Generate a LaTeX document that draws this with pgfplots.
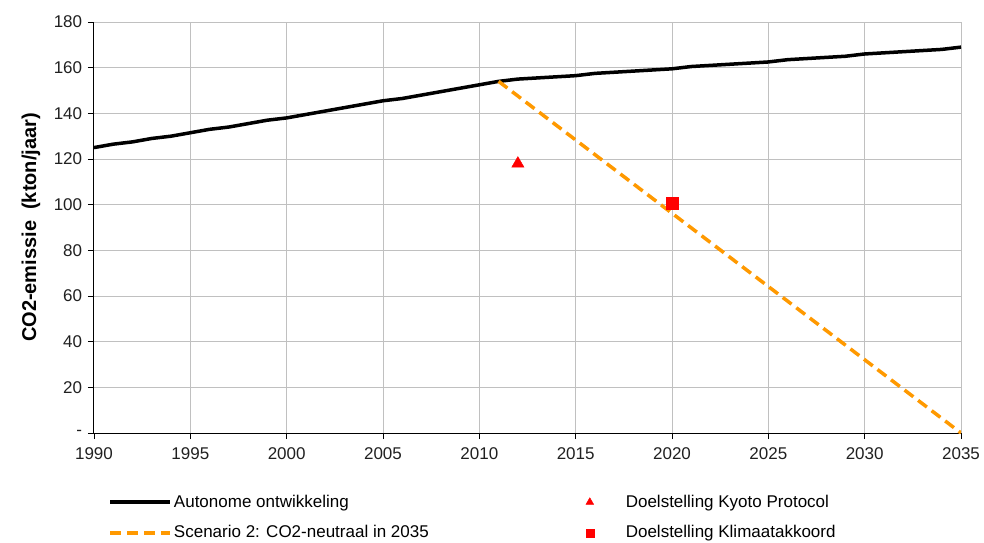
\documentclass[border=0pt]{standalone}
\usepackage{pgfplots}
\pgfplotsset{compat=1.18}
\usepackage{fontspec}
\setmainfont{Liberation Sans}
\definecolor{xlorange}{HTML}{FF9900}
\definecolor{gridgray}{HTML}{C0C0C0}
\definecolor{ticktext}{HTML}{202020}
\pgfplotsset{
  linelegend/.style={legend image code/.code={\draw[##1] (0pt,0pt) -- (60pt,0pt);}},
  marklegend/.style={legend image code/.code={\draw[##1, mark size=#1] plot coordinates {(5pt,0pt)};}},
}
\begin{document}
\fontsize{17pt}{20pt}\selectfont
\begin{tikzpicture}
  \begin{axis}[
      at={(0pt,0pt)}, anchor=south west,
      scale only axis, width=867pt, height=411pt,
      xmin=1990, xmax=2035, ymin=0, ymax=180,
      axis lines*=left,
      axis line style={-, black, line width=1pt},
      xtick={1990,1995,2000,2005,2010,2015,2020,2025,2030,2035},
      xticklabels={1990,1995,2000,2005,2010,2015,2020,2025,2030,2035},
      ytick={0,20,40,60,80,100,120,140,160,180},
      yticklabels={-,20,40,60,80,100,120,140,160,180},
      tick align=outside, major tick length=6pt,
      tick style={black, line width=0.8pt},
      ticklabel style={font=\fontsize{17pt}{20pt}\selectfont, text=ticktext},
      xticklabel style={yshift=-3pt},
      grid=major, grid style={gridgray, line width=1pt},
      ylabel={\textbf{CO2-emissie\ \ (kton/jaar)}},
      ylabel style={font=\fontsize{20pt}{24pt}\selectfont, yshift=2pt},
      legend columns=2,
      legend cell align=left,
      legend style={at={(0.013,-0.14)}, anchor=north west, draw=none, fill=none,
                    font=\fontsize{17pt}{20pt}\selectfont, row sep=12pt,
                    /tikz/column 2/.style={column sep=155pt},
                    /tikz/column 3/.style={column sep=30pt}},
    ]
    \addplot[black, line width=3.5pt, line join=round, linelegend]
      coordinates {
        (1990,125) (1991,126.5) (1992,127.5) (1993,129) (1994,130)
        (1995,131.5) (1996,133) (1997,134) (1998,135.5) (1999,137)
        (2000,138) (2001,139.5) (2002,141) (2003,142.5) (2004,144)
        (2005,145.5) (2006,146.5) (2007,148) (2008,149.5) (2009,151)
        (2010,152.5) (2011,154) (2012,155) (2013,155.5) (2014,156)
        (2015,156.5) (2016,157.5) (2017,158) (2018,158.5) (2019,159)
        (2020,159.5) (2021,160.5) (2022,161) (2023,161.5) (2024,162)
        (2025,162.5) (2026,163.5) (2027,164) (2028,164.5) (2029,165)
        (2030,166) (2031,166.5) (2032,167) (2033,167.5) (2034,168)
        (2035,169)
      };
    \addlegendentry{Autonome ontwikkeling}
    \addplot[red, only marks, mark=triangle*, mark size=7pt, marklegend=4.5pt]
      coordinates {(2012,118)};
    \addlegendentry{Doelstelling Kyoto Protocol}
    \addplot[xlorange, line width=3.5pt, dash pattern=on 11pt off 6pt, linelegend]
      coordinates {(2011,154) (2035,0)};
    \addlegendentry{Scenario 2: CO2-neutraal in 2035}
    \addplot[red, only marks, mark=square*, mark size=6pt, marklegend=4pt]
      coordinates {(2020,100.5)};
    \addlegendentry{Doelstelling Klimaatakkoord}
  \end{axis}
  \pgfresetboundingbox
  \path[use as bounding box] (-94pt,-109pt) rectangle (890pt,433pt);
\end{tikzpicture}
\end{document}
